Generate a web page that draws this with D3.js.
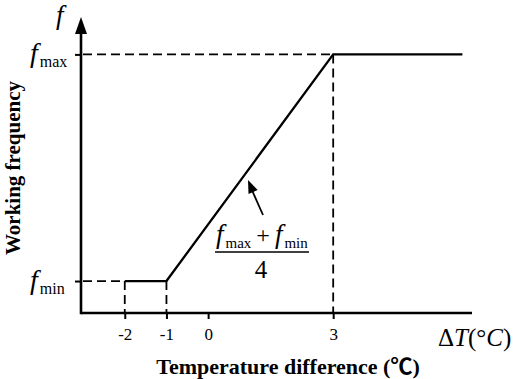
<!DOCTYPE html>
<html><head><meta charset="utf-8">
<script src="https://cdn.jsdelivr.net/npm/d3@7"></script>
<style>
html,body{margin:0;padding:0;background:#fff;}
svg{display:block;}
text{font-family:"Liberation Serif","Times New Roman",serif;fill:#000;}
</style></head>
<body>
<svg id="c" width="514" height="379"></svg>
<script>
// ---- data ----
const xTickValues = [-2, -1, 0, 3];
const xTickLabels = ["-2", "-1", "0", "3"];
const curveX = [-2, -1, 3, 6.1];       // temperature difference (°C)
const curveF = [0, 0, 1, 1];           // 0 = f_min, 1 = f_max
const fLevels = [0, 1];
const fLevelNames = ["min", "max"];
const xDomain = [-3.05, 6.33];
const yDomain = [-0.141, 1.165];

const svg = d3.select("#c");
const x = d3.scaleLinear().domain(xDomain).range([81, 472]);
const y = d3.scaleLinear().domain(yDomain).range([313, 17]);

const x0 = x(xDomain[0]), y0 = y(yDomain[0]);

// dashed guide lines
const dash = "9,5";
const guides = svg.append("g").attr("stroke", "#000").attr("stroke-width", 1.8).attr("stroke-dasharray", dash).attr("fill", "none");
guides.append("line").attr("x1", x0 + 2).attr("x2", x(curveX[2])).attr("y1", y(1)).attr("y2", y(1));
guides.append("line").attr("x1", x0 + 2).attr("x2", x(curveX[0])).attr("y1", y(0)).attr("y2", y(0));
[curveX[0], curveX[1], curveX[2]].forEach((v, i) => {
  const top = i < 2 ? y(0) : y(1);
  guides.append("line").attr("x1", x(v)).attr("x2", x(v)).attr("y1", top).attr("y2", y0);
});

// x axis
const xAxis = d3.axisBottom(x).tickValues(xTickValues).tickFormat((d, i) => xTickLabels[i]).tickSize(6).tickPadding(9);
const gx = svg.append("g").attr("transform", `translate(0,${y0})`).call(xAxis);
gx.select(".domain").remove();
gx.selectAll(".tick line").attr("stroke", "#000").attr("stroke-width", 2);
gx.selectAll(".tick text").style("font-family", "'Liberation Serif',serif").style("font-size", "17px").attr("fill", "#000");
svg.append("line").attr("x1", x0).attr("x2", x(xDomain[1])).attr("y1", y0).attr("y2", y0)
  .attr("stroke", "#000").attr("stroke-width", 2.6);

// y axis
const yAxis = d3.axisLeft(y).tickValues(fLevels).tickFormat("").tickSize(6);
const gy = svg.append("g").attr("transform", `translate(${x0},0)`).call(yAxis);
gy.select(".domain").remove();
gy.selectAll(".tick line").attr("stroke", "#000").attr("stroke-width", 2);
svg.append("line").attr("x1", x0).attr("x2", x0).attr("y1", y0 + 1.3).attr("y2", y(yDomain[1]) + 14)
  .attr("stroke", "#000").attr("stroke-width", 2.6);
const tipY = y(yDomain[1]);
svg.append("path").attr("d", `M${x0},${tipY} L${x0 - 6},${tipY + 17} L${x0 + 6},${tipY + 17} Z`).attr("fill", "#000");

// curve
const line = d3.line().x((d, i) => x(curveX[i])).y((d, i) => y(curveF[i]));
svg.append("path").datum(curveX).attr("d", line).attr("fill", "none").attr("stroke", "#000")
  .attr("stroke-width", 2.3).attr("stroke-linejoin", "miter");

// y level labels f_max / f_min
function fLabel(g, xx, yy, sub, fs, ss) {
  const t = g.append("text").attr("x", xx).attr("y", yy);
  t.append("tspan").text("f").style("font-style", "italic").style("font-size", fs + "px");
  t.append("tspan").text(sub).style("font-size", ss + "px").attr("dx", 2).attr("dy", 5);
  return t;
}
fLevels.forEach((v, i) => {
  fLabel(svg, 30, y(v) + 8, fLevelNames[i], 28, 16);
});

// top "f"
svg.append("text").attr("x", 56).attr("y", 24).style("font-style", "italic").style("font-size", "27px").text("f");

// ΔT(°C)
const dt = svg.append("text").attr("x", 438).attr("y", 346).style("font-size", "25px");
dt.append("tspan").text("Δ");
dt.append("tspan").text("T").style("font-style", "italic");
dt.append("tspan").text("(°");
dt.append("tspan").text("C").style("font-style", "italic");
dt.append("tspan").text(")");

// axis titles
svg.append("text").attr("x", 288).attr("y", 374).attr("text-anchor", "middle")
  .style("font-weight", "bold").style("font-size", "22px")
  .style("font-family", "'Liberation Serif','Noto Sans CJK SC',serif")
  .text("Temperature difference (℃)");
svg.append("text").attr("transform", "translate(20,168) rotate(-90)").attr("text-anchor", "middle")
  .style("font-weight", "bold").style("font-size", "21px").text("Working frequency");

// annotation arrow
const ax1 = 263, ay1 = 215, ax2 = 248, ay2 = 180;
svg.append("line").attr("x1", ax1).attr("y1", ay1).attr("x2", ax2 + 3).attr("y2", ay2 + 8)
  .attr("stroke", "#000").attr("stroke-width", 1.8);
{
  const ang = Math.atan2(ay2 - ay1, ax2 - ax1);
  const L = 13, W = 5;
  const bx = ax2 - L * Math.cos(ang), by = ay2 - L * Math.sin(ang);
  const px = -Math.sin(ang) * W, py = Math.cos(ang) * W;
  svg.append("path").attr("d", `M${ax2},${ay2} L${bx + px},${by + py} L${bx - px},${by - py} Z`).attr("fill", "#000");
}
// fraction
const num = svg.append("text").attr("x", 216).attr("y", 243);
num.append("tspan").text("f").style("font-style", "italic").style("font-size", "27px");
num.append("tspan").text("max").style("font-size", "15px").attr("dx", 2).attr("dy", 5);
num.append("tspan").text("+").style("font-size", "24px").attr("dx", 5).attr("dy", -5);
num.append("tspan").text("f").style("font-style", "italic").style("font-size", "27px").attr("dx", 5);
num.append("tspan").text("min").style("font-size", "15px").attr("dx", 2).attr("dy", 5);
svg.append("line").attr("x1", 215).attr("x2", 309).attr("y1", 252).attr("y2", 252).attr("stroke", "#000").attr("stroke-width", 1.5);
svg.append("text").attr("x", 261).attr("y", 278).attr("text-anchor", "middle").style("font-size", "25px").text("4");
</script>
</body></html>
